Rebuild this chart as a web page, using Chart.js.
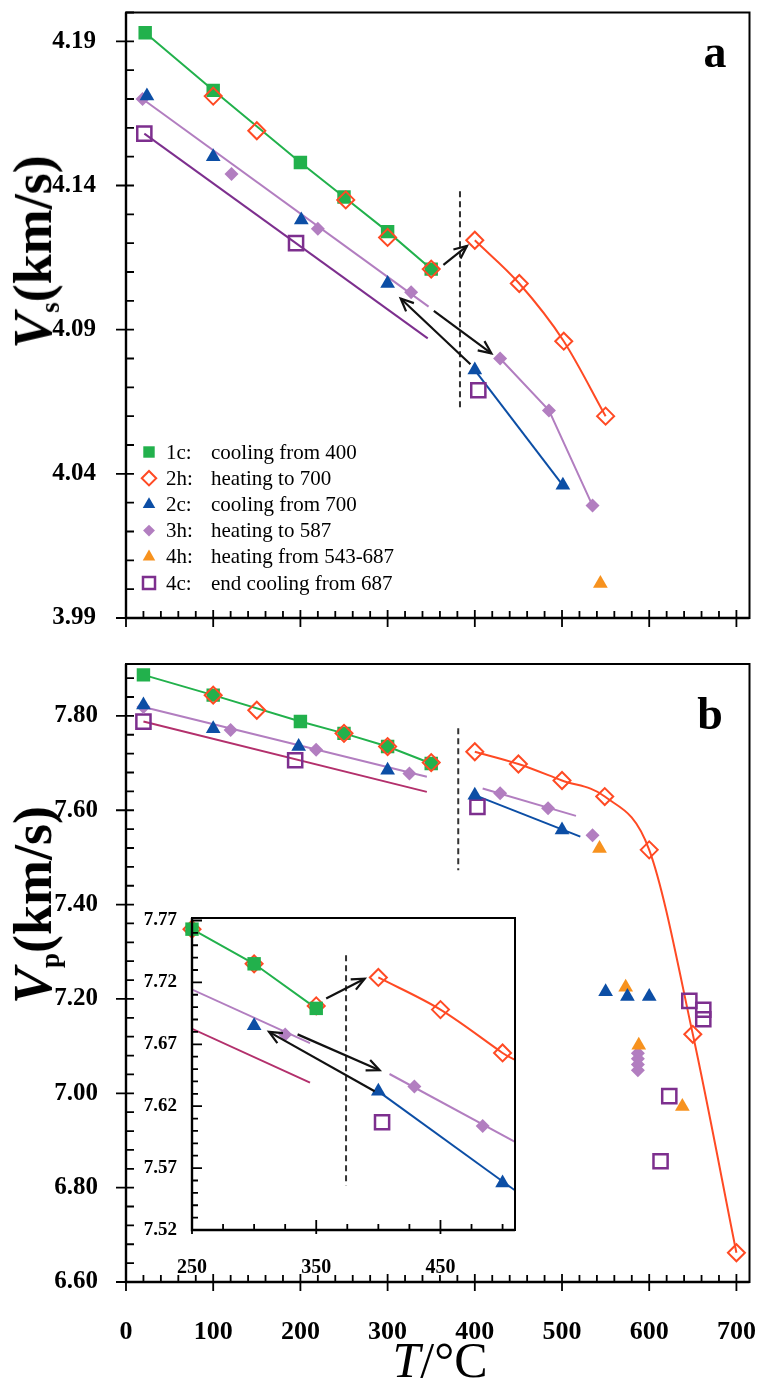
<!DOCTYPE html>
<html>
<head>
<meta charset="utf-8">
<title>Vs and Vp versus temperature</title>
<script src="https://cdn.jsdelivr.net/npm/chart.js@4.4.1/dist/chart.umd.min.js"></script>
<style>
  html, body { margin: 0; padding: 0; background: #fff; }
  #page { position: relative; width: 762px; height: 1381px; overflow: hidden;
          font-family: "Liberation Serif", "Times New Roman", serif; color: #000; }
  canvas { position: absolute; }
  #ca { left: 0; top: 0; }
  #cb { left: 0; top: 640px; }
  #ci { left: 130px; top: 890px; }
  .ytitle { position: absolute; font-weight: bold; font-size: 54px; white-space: nowrap; line-height: 1;
            transform: translate(-50%, -50%) rotate(-90deg); }
  .ytitle i { font-style: italic; }
  .ytitle sub { font-size: 0.5em; vertical-align: -0.3em; }
  .tag { position: absolute; font-weight: bold; font-size: 46px; line-height: 1; transform: translate(-50%, -50%); }
  #xtitle { position: absolute; left: 440px; top: 1360px; transform: translate(-50%, -50%);
            font-size: 50px; white-space: nowrap; line-height: 1; }
</style>
</head>
<body>
<div id="page">
  <canvas id="ca" width="762" height="640"></canvas>
  <canvas id="cb" width="762" height="741"></canvas>
  <canvas id="ci" width="400" height="390"></canvas>
  <div class="ytitle" style="left:35px; top:252px;"><i>V</i><sub>s</sub>(km/s)</div>
  <div class="ytitle" style="left:35px; top:905px;"><i>V</i><sub>p</sub>(km/s)</div>
  <div class="tag" style="left:715px; top:52px;">a</div>
  <div class="tag" style="left:710px; top:714px;">b</div>
  <div id="xtitle"><i>T</i>/°C</div>
</div>
<script>
// ---- panel a : Vs (km/s) vs T (°C) ----
const vs1cT = [22, 100, 200, 250, 300, 350];
const vs1c  = [4.193, 4.173, 4.148, 4.136, 4.124, 4.111];
const vs2hT = [100, 150, 252, 300, 350, 400, 451, 502, 550];
const vs2h  = [4.171, 4.159, 4.135, 4.122, 4.111, 4.121, 4.106, 4.086, 4.060];
const vs2cT = [24, 100, 201, 300, 400, 501];
const vs2c  = [4.171, 4.150, 4.128, 4.106, 4.076, 4.036];
const vs3hT = [19, 121, 220, 327, 429, 485, 535];
const vs3h  = [4.170, 4.144, 4.125, 4.103, 4.080, 4.062, 4.029];
const vs4hT = [544];
const vs4h  = [4.002];
const vs4cT = [21, 195, 404];
const vs4c  = [4.158, 4.120, 4.069];
// fitted lines (end points)
const vsFit3hT = [19, 347];
const vsFit3h  = [4.170, 4.098];
const vsFit4cT = [21, 346];
const vsFit4c  = [4.158, 4.087];

// ---- panel b : Vp (km/s) vs T (°C) ----
const vp1cT = [20, 100, 200, 250, 300, 350];
const vp1c  = [7.887, 7.844, 7.788, 7.763, 7.735, 7.699];
const vp2hT = [100, 150, 250, 300, 350, 400, 450, 500, 549, 600, 650, 700];
const vp2h  = [7.844, 7.812, 7.763, 7.735, 7.701, 7.724, 7.698, 7.663, 7.629, 7.516, 7.125, 6.662];
const vp2cT = [20, 100, 198, 300, 400, 500, 550, 575, 600];
const vp2c  = [7.823, 7.773, 7.735, 7.685, 7.632, 7.558, 7.215, 7.205, 7.205];
const vp3hT = [20, 120, 218, 325, 429, 484, 535, 587, 587, 587, 587];
const vp3h  = [7.819, 7.770, 7.728, 7.678, 7.636, 7.604, 7.547, 7.085, 7.073, 7.061, 7.049];
const vp4hT = [543, 573, 588, 638];
const vp4h  = [7.519, 7.225, 7.102, 6.972];
const vp4cT = [20, 194, 403, 613, 623, 646, 662, 662];
const vp4c  = [7.788, 7.706, 7.607, 6.856, 6.994, 7.196, 7.177, 7.157];
const vpFit3hT = [20, 345];
const vpFit3h  = [7.819, 7.671];
const vpFit3hLoT = [409, 516];
const vpFit3hLo  = [7.646, 7.588];
const vpFit2cT = [400, 521];
const vpFit2c  = [7.632, 7.544];
const vpFit4cT = [20, 345];
const vpFit4c  = [7.788, 7.639];

// tick labels
const tTicks = [0, 100, 200, 300, 400, 500, 600, 700];
const vsTicks = [3.99, 4.04, 4.09, 4.14, 4.19];
const vpTicks = [6.60, 6.80, 7.00, 7.20, 7.40, 7.60, 7.80];
const insetTTicks = [250, 350, 450];
const insetVpTicks = [7.52, 7.57, 7.62, 7.67, 7.72, 7.77];

const legendCodes = ['1c:', '2h:', '2c:', '3h:', '4h:', '4c:'];
const legendText = ['cooling from 400', 'heating to 700', 'cooling from 700',
                    'heating to 587', 'heating from 543-687', 'end cooling from 687'];

const GREEN = '#22b14c', RED = '#ff4a24', BLUE = '#0c4ea5', LAV = '#b27ec0',
      ORANGE = '#f7921e', PURPLE = '#7d2f8e', CRIMSON = '#b3306c';

const mk = {
  c1: { pointStyle: 'rect', r: 9.5, fill: GREEN, stroke: GREEN, bw: 0 },
  h2: { pointStyle: 'rectRot', r: 8.5, fill: 'rgba(255,255,255,0)', stroke: RED, bw: 2 },
  c2: { pointStyle: 'triangle', r: 8.5, fill: BLUE, stroke: BLUE, bw: 0 },
  h3: { pointStyle: 'rectRot', r: 7, fill: LAV, stroke: LAV, bw: 0 },
  h4: { pointStyle: 'triangle', r: 8.5, fill: ORANGE, stroke: ORANGE, bw: 0 },
  c4: { pointStyle: 'rect', r: 10, fill: 'rgba(255,255,255,0)', stroke: PURPLE, bw: 2.5 },
};
const legendMarks = [mk.c1, mk.h2, mk.c2, mk.h3, mk.h4, mk.c4];

const pts = (T, V) => T.map((t, i) => ({ x: t, y: V[i] }));
const from = (T, V, t0) => pts(T, V).filter(p => p.x >= t0);

function pointSet(data, m) {
  return { data, showLine: false, pointStyle: m.pointStyle, pointRadius: m.r,
           pointBackgroundColor: m.fill, pointBorderColor: m.stroke, pointBorderWidth: m.bw,
           clip: { left: 12, top: 12, right: 0, bottom: 0 } };
}
function lineSet(data, color, extra) {
  return Object.assign({ data, showLine: true, pointRadius: 0, borderColor: color,
                         borderWidth: 2, fill: false, clip: 0 }, extra || {});
}

// frame, ticks, dashed line, arrows, legend
const decor = {
  id: 'decor',
  beforeDraw(chart, args, o) {
    if (!o.white) return;
    const a = chart.chartArea, ctx = chart.ctx;
    ctx.save();
    ctx.fillStyle = '#fff';
    ctx.fillRect(a.left, a.top, a.right - a.left, a.bottom - a.top);
    ctx.restore();
  },
  afterDatasetsDraw(chart, args, o) {
    const { ctx, chartArea: a, scales: { x, y } } = chart;
    ctx.save();
    // dashed marker line
    (o.dashes || []).forEach(d => {
      ctx.setLineDash([6, 4]);
      ctx.strokeStyle = '#333';
      ctx.lineWidth = 2;
      ctx.beginPath();
      ctx.moveTo(x.getPixelForValue(d[0]), y.getPixelForValue(d[1]));
      ctx.lineTo(x.getPixelForValue(d[0]), y.getPixelForValue(d[2]));
      ctx.stroke();
    });
    ctx.setLineDash([]);
    // arrows
    ctx.strokeStyle = '#111';
    ctx.lineWidth = 2.2;
    (o.arrows || []).forEach(r => {
      const x1 = x.getPixelForValue(r[0]), y1 = y.getPixelForValue(r[1]);
      const x2 = x.getPixelForValue(r[2]), y2 = y.getPixelForValue(r[3]);
      ctx.beginPath(); ctx.moveTo(x1, y1); ctx.lineTo(x2, y2); ctx.stroke();
      const ang = Math.atan2(y2 - y1, x2 - x1), h = 14, sp = 0.42;
      ctx.beginPath();
      ctx.moveTo(x2 - h * Math.cos(ang - sp), y2 - h * Math.sin(ang - sp));
      ctx.lineTo(x2, y2);
      ctx.lineTo(x2 - h * Math.cos(ang + sp), y2 - h * Math.sin(ang + sp));
      ctx.stroke();
    });
    // legend
    if (o.legend) {
      ctx.font = '21px "Liberation Serif"';
      ctx.textBaseline = 'middle';
      legendCodes.forEach((c, i) => {
        const yy = 452 + i * 26.2, m = legendMarks[i];
        ctx.fillStyle = m.fill === 'rgba(255,255,255,0)' ? '#fff' : m.fill;
        ctx.strokeStyle = m.stroke;
        ctx.lineWidth = m.bw;
        Chart.helpers.drawPoint(ctx, { pointStyle: m.pointStyle, radius: m.r * 0.85, rotation: 0,
                                       borderWidth: m.bw }, 149, yy);
        ctx.fillStyle = '#000';
        ctx.fillText(c, 166, yy + 1);
        ctx.fillText(legendText[i], 211, yy + 1);
      });
    }
    ctx.restore();
  },
  afterDraw(chart, args, o) {
    const { ctx, chartArea: a, scales: { x, y } } = chart;
    ctx.save();
    ctx.strokeStyle = '#000';
    ctx.lineWidth = 2;
    ctx.strokeRect(a.left, a.top, a.right - a.left, a.bottom - a.top);
    ctx.lineWidth = 2.4;
    ctx.beginPath(); ctx.moveTo(a.left, a.top); ctx.lineTo(a.left, a.bottom); ctx.lineTo(a.right, a.bottom); ctx.stroke();
    const t = o.ticks;
    ctx.lineWidth = 1.8;
    ctx.beginPath();
    for (let v = y.min; v <= y.max + 1e-9; v += t.yStep) {
      const p = y.getPixelForValue(v);
      ctx.moveTo(a.left - t.yMinOut, p); ctx.lineTo(a.left + t.yMinIn, p);
    }
    y.ticks.forEach(k => {
      const p = y.getPixelForValue(k.value);
      ctx.moveTo(a.left - t.yMajOut, p); ctx.lineTo(a.left + t.yMajIn, p);
    });
    for (let v = x.min; v <= x.max + 1e-9; v += t.xStep) {
      const p = x.getPixelForValue(v);
      ctx.moveTo(p, a.bottom + t.xMinOut); ctx.lineTo(p, a.bottom - t.xMinIn);
    }
    t.xMajors.forEach(v => {
      const p = x.getPixelForValue(v);
      ctx.moveTo(p, a.bottom + t.xMajOut); ctx.lineTo(p, a.bottom - t.xMajIn);
    });
    ctx.stroke();
    ctx.restore();
  }
};

function options(c) {
  const f = (size) => ({ family: 'Liberation Serif', size, weight: 'bold' });
  return {
    responsive: false, animation: false, devicePixelRatio: 1, events: [],
    layout: { padding: c.pad },
    plugins: { legend: { display: false }, tooltip: { enabled: false }, decor: c.decor },
    scales: {
      x: { type: 'linear', min: c.xmin, max: c.xmax,
           grid: { display: false }, border: { display: false },
           afterBuildTicks: s => { s.ticks = c.xTicks.map(v => ({ value: v })); },
           afterFit: s => { s.height = c.xh; s.paddingLeft = 0; s.paddingRight = 0; },
           ticks: { display: c.xLabels, padding: c.xpad, font: f(c.xfont), color: '#000',
                    maxRotation: 0, autoSkip: false, callback: v => String(v) } },
      y: { type: 'linear', min: c.ymin, max: c.ymax,
           grid: { display: false }, border: { display: false },
           afterBuildTicks: s => { s.ticks = c.yTicks.map(v => ({ value: v })); },
           afterFit: s => { s.width = c.yw; s.paddingTop = 0; s.paddingBottom = 0; },
           ticks: { padding: c.ypad, font: f(c.yfont), color: '#000', autoSkip: false,
                    callback: v => v.toFixed(2) } }
    }
  };
}

// panel a
new Chart(document.getElementById('ca'), {
  type: 'scatter',
  plugins: [decor],
  data: { datasets: [
    pointSet(pts(vs2hT, vs2h), mk.h2),
    pointSet(pts(vs1cT, vs1c), mk.c1),
    pointSet(pts(vs2cT, vs2c), mk.c2),
    pointSet(pts(vs3hT, vs3h), mk.h3),
    pointSet(pts(vs4hT, vs4h), mk.h4),
    pointSet(pts(vs4cT, vs4c), mk.c4),
    lineSet(from(vs2hT, vs2h, 400), RED, { cubicInterpolationMode: 'monotone' }),
    lineSet(pts(vs1cT, vs1c), GREEN),
    lineSet(from(vs2cT, vs2c, 400), BLUE),
    lineSet(pts(vsFit3hT, vsFit3h), LAV),
    lineSet(from(vs3hT, vs3h, 429), LAV),
    lineSet(pts(vsFit4cT, vsFit4c), PURPLE),
  ] },
  options: options({
    pad: { top: 9, right: 10, left: 0, bottom: 0 },
    xmin: 0, xmax: 715, xTicks: tTicks, xh: 22, xLabels: false, xpad: 0, xfont: 24,
    ymin: 3.99, ymax: 4.20, yTicks: vsTicks, yw: 126, ypad: 22, yfont: 25,
    decor: {
      legend: true,
      dashes: [[383, 4.138, 4.062]],
      arrows: [[364, 4.1125, 391, 4.119], [395, 4.078, 315, 4.1008], [353, 4.0965, 419, 4.0818]],
      ticks: { yStep: 0.01, yMinOut: 0, yMinIn: 8, yMajOut: 10, yMajIn: 0,
               xStep: 20, xMinOut: 0, xMinIn: 7, xMajOut: 9, xMajIn: 8, xMajors: tTicks }
    }
  })
});

// panel b
new Chart(document.getElementById('cb'), {
  type: 'scatter',
  plugins: [decor],
  data: { datasets: [
    pointSet(pts(vp2hT, vp2h), mk.h2),
    pointSet(pts(vp1cT, vp1c), mk.c1),
    pointSet(pts(vp2cT, vp2c), mk.c2),
    pointSet(pts(vp4hT, vp4h), mk.h4),
    pointSet(pts(vp3hT, vp3h), mk.h3),
    pointSet(pts(vp4cT, vp4c), mk.c4),
    lineSet(from(vp2hT, vp2h, 400), RED, { cubicInterpolationMode: 'monotone' }),
    lineSet(pts(vp1cT, vp1c), GREEN),
    lineSet(pts(vpFit2cT, vpFit2c), BLUE),
    lineSet(pts(vpFit3hT, vpFit3h), LAV),
    lineSet(pts(vpFit3hLoT, vpFit3hLo), LAV),
    lineSet(pts(vpFit4cT, vpFit4c), CRIMSON),
  ] },
  options: options({
    pad: { top: 24, right: 10, left: 0, bottom: 0 },
    xmin: 0, xmax: 715, xTicks: tTicks, xh: 99, xLabels: true, xpad: 27, xfont: 26,
    ymin: 6.60, ymax: 7.91, yTicks: vpTicks, yw: 126, ypad: 20, yfont: 25,
    decor: {
      dashes: [[381, 7.774, 7.473]],
      arrows: [],
      ticks: { yStep: 0.04, yMinOut: 0, yMinIn: 8, yMajOut: 10, yMajIn: 0,
               xStep: 20, xMinOut: 0, xMinIn: 7, xMajOut: 9, xMajIn: 8, xMajors: tTicks }
    }
  })
});

// inset of panel b
new Chart(document.getElementById('ci'), {
  type: 'scatter',
  plugins: [decor],
  data: { datasets: [
    pointSet(pts(vp1cT, vp1c), mk.c1),
    pointSet(pts(vp2hT, vp2h), mk.h2),
    pointSet(pts(vp2cT, vp2c), mk.c2),
    pointSet(pts(vp3hT, vp3h), mk.h3),
    pointSet(pts(vp4cT, vp4c), mk.c4),
    lineSet(from(vp2hT, vp2h, 400), RED, { cubicInterpolationMode: 'monotone' }),
    lineSet(pts(vp1cT, vp1c), GREEN),
    lineSet(pts(vpFit2cT, vpFit2c), BLUE),
    lineSet(pts(vpFit3hT, vpFit3h), LAV),
    lineSet(pts(vpFit3hLoT, vpFit3hLo), LAV),
    lineSet(pts(vpFit4cT, vpFit4c), CRIMSON),
  ] },
  options: options({
    pad: { top: 28, right: 15, left: 0, bottom: 0 },
    xmin: 250, xmax: 510, xTicks: insetTTicks, xh: 50, xLabels: true, xpad: 18, xfont: 20,
    ymin: 7.52, ymax: 7.772, yTicks: insetVpTicks, yw: 62, ypad: 7, yfont: 19,
    decor: {
      white: true,
      dashes: [[374, 7.742, 7.556]],
      arrows: [[358, 7.707, 389, 7.723], [397, 7.632, 312, 7.680], [335, 7.678, 401, 7.649]],
      ticks: { yStep: 0.01, yMinOut: 0, yMinIn: 6, yMajOut: 0, yMajIn: 10,
               xStep: 25, xMinOut: 0, xMinIn: 6, xMajOut: 4, xMajIn: 10, xMajors: insetTTicks }
    }
  })
});
</script>
</body>
</html>
